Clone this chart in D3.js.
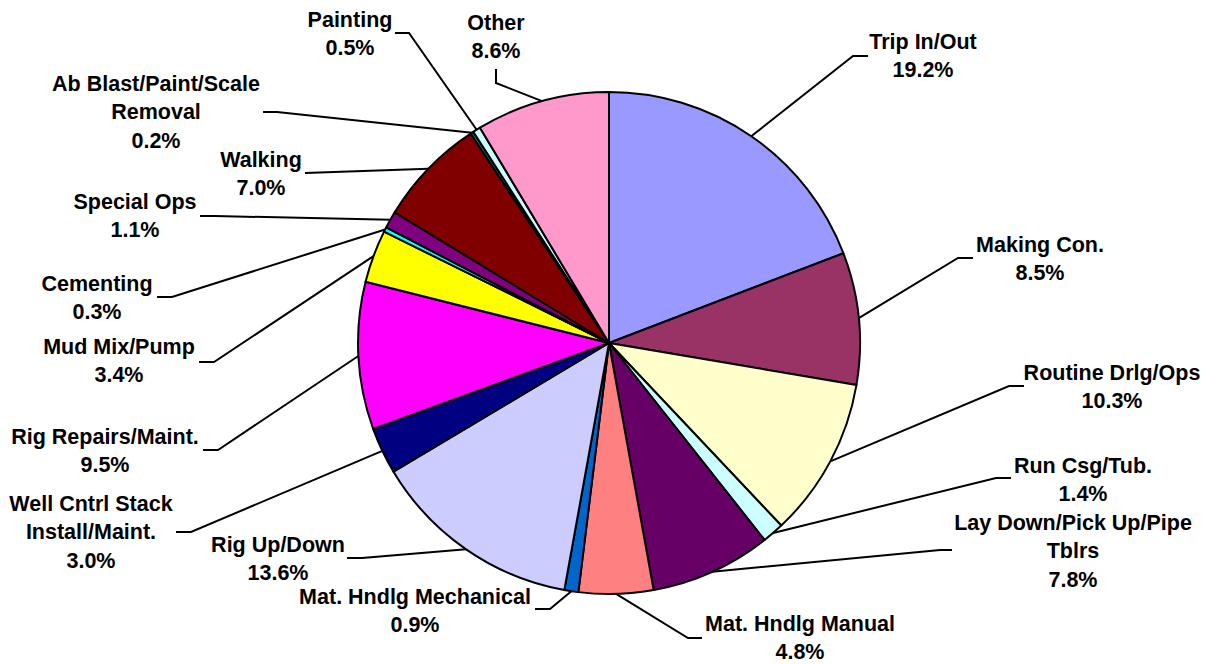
<!DOCTYPE html>
<html>
<head>
<meta charset="utf-8">
<script src="https://cdn.jsdelivr.net/npm/d3@7"></script>
<style>
  html, body { margin: 0; padding: 0; background: #fff; }
  svg { display: block; }
  text { font-family: "Liberation Sans", Arial, sans-serif; font-weight: bold; font-size: 21.5px; fill: #000; }
</style>
</head>
<body>
<svg id="chart" width="1211" height="664"></svg>
<script>
// ---- data ----
const categories = [
  ["Trip In/Out"],
  ["Making Con."],
  ["Routine Drlg/Ops"],
  ["Run Csg/Tub."],
  ["Lay Down/Pick Up/Pipe", "Tblrs"],
  ["Mat. Hndlg Manual"],
  ["Mat. Hndlg Mechanical"],
  ["Rig Up/Down"],
  ["Well Cntrl Stack", "Install/Maint."],
  ["Rig Repairs/Maint."],
  ["Mud Mix/Pump"],
  ["Cementing"],
  ["Special Ops"],
  ["Walking"],
  ["Ab Blast/Paint/Scale", "Removal"],
  ["Painting"],
  ["Other"]
];
const values = [19.2, 8.5, 10.3, 1.4, 7.8, 4.8, 0.9, 13.6, 3.0, 9.5, 3.4, 0.3, 1.1, 7.0, 0.2, 0.5, 8.6];
const colors = ["#9999FF", "#993366", "#FFFFCC", "#CCFFFF", "#660066", "#FF8080", "#0066CC", "#CCCCFF",
                "#000080", "#FF00FF", "#FFFF00", "#00FFFF", "#800080", "#800000", "#008080", "#CCFFFF", "#FF99CC"];

// ---- layout (label anchor: text centre x, first line centre y; leader elbow and end) ----
const labelLayout = [
  {tx: 923,  ty: 41,  ex: 853, ey: 56,  lx: 868, ly: 56},
  {tx: 1040, ty: 244, ex: 958, ey: 258, lx: 973, ly: 258},
  {tx: 1112, ty: 372, ex: 1009, ey: 386, lx: 1024, ly: 386},
  {tx: 1083, ty: 465, ex: 996, ey: 478, lx: 1011, ly: 478},
  {tx: 1073, ty: 522, ex: 940, ey: 550, lx: 952, ly: 550},
  {tx: 800,  ty: 623, ex: 688, ey: 638, lx: 702, ly: 638},
  {tx: 415,  ty: 596, ex: 550, ey: 609, lx: 535, ly: 609},
  {tx: 278,  ty: 544, ex: 362, ey: 558, lx: 347, ly: 558},
  {tx: 91,   ty: 503, ex: 191, ey: 532, lx: 176, ly: 532},
  {tx: 105,  ty: 436, ex: 218, ey: 450, lx: 203, ly: 450},
  {tx: 119,  ty: 346, ex: 214, ey: 362, lx: 199, ly: 362},
  {tx: 97,   ty: 283, ex: 172, ey: 297, lx: 157, ly: 297},
  {tx: 135,  ty: 201, ex: 215, ey: 216, lx: 200, ly: 216},
  {tx: 261,  ty: 159, ex: 305, ey: 173, lx: 305, ly: 173},
  {tx: 156,  ty: 83,  ex: 277, ey: 112, lx: 263, ly: 112},
  {tx: 350,  ty: 19,  ex: 409, ey: 33,  lx: 395, ly: 33},
  {tx: 496,  ty: 22,  ex: 496, ey: 83,  lx: 496, ly: 69}
];

const svg = d3.select("#chart");
const cx = 609, cy = 343, R = 251;
const lineH = 28.5;

const pie = d3.pie().sort(null).value(d => d);
const arcs = pie(values);
const arc = d3.arc().innerRadius(0).outerRadius(R);

const g = svg.append("g").attr("transform", `translate(${cx},${cy})`);
g.selectAll("path.slice")
  .data(arcs)
  .join("path")
  .attr("class", "slice")
  .attr("d", arc)
  .attr("fill", (d, i) => colors[i])
  .attr("stroke", "#000")
  .attr("stroke-width", 2)
  .attr("stroke-linejoin", "round");

// leader lines
const leaders = svg.append("g");
arcs.forEach((d, i) => {
  const a = (d.startAngle + d.endAngle) / 2;
  const px = cx + R * Math.sin(a);
  const py = cy - R * Math.cos(a);
  const L = labelLayout[i];
  leaders.append("polyline")
    .attr("points", `${px},${py} ${L.ex},${L.ey} ${L.lx},${L.ly}`)
    .attr("fill", "none")
    .attr("stroke", "#000")
    .attr("stroke-width", 2);
});

// labels
const labels = svg.append("g");
arcs.forEach((d, i) => {
  const L = labelLayout[i];
  const lines = categories[i].concat([values[i].toFixed(1) + "%"]);
  const t = labels.append("text").attr("text-anchor", "middle");
  lines.forEach((s, k) => {
    t.append("tspan").attr("x", L.tx).attr("y", L.ty + 7.5 + k * lineH).text(s);
  });
});
</script>
</body>
</html>
